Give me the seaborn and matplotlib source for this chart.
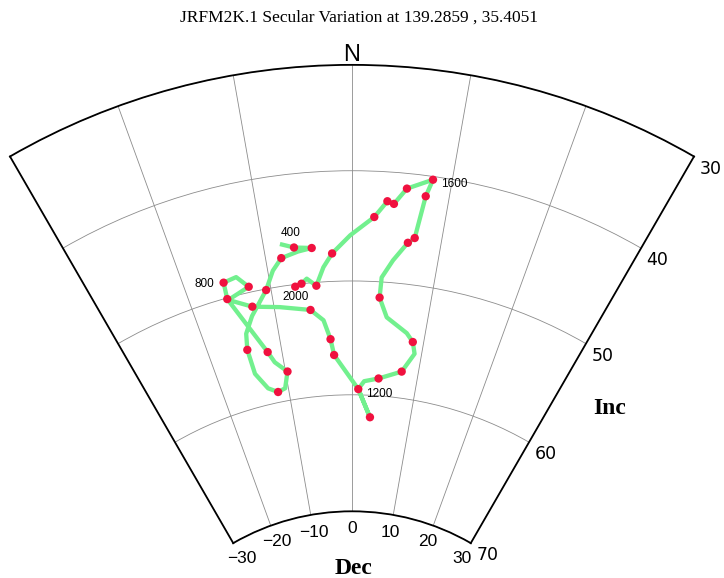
import numpy as np
import matplotlib
matplotlib.use("Agg")
import matplotlib.pyplot as plt
import seaborn as sns

title = "JRFM2K.1 Secular Variation at 139.2859 , 35.4051"

# green curve (Dec, Inc in degrees)
curve_dec = [-7.9, -6.6, -4.6, -6.2, -8.2, -9.4, -10.6, -13.0, -14.3, -14.7, -14.5, -13.1, -11.7, -10.5,
             -9.7, -11.3, -12.0, -15.5, -15.4, -13.8, -12.6, -15.4, -12.7, -9.3, -5.4, -3.8, -3.0, -2.6,
             1.0, 3.1, 1.0, 1.9, 4.1, 7.5, 9.0, 8.5, 7.5, 4.6, 3.5, 3.6, 4.8, 6.3, 7.0, 7.6, 8.1,
             5.6, 4.4, 3.7, 2.4, -0.2, -2.3, -3.4, -4.4, -5.5, -6.2, -7.0]
curve_inc = [46.3, 46.7, 46.9, 47.1, 47.5, 48.5, 50.1, 52.1, 53.5, 54.9, 57.1, 58.6, 59.1, 58.9,
             57.5, 56.5, 55.5, 50.1, 48.6, 48.4, 49.5, 50.2, 51.3, 51.8, 52.4, 53.4, 55.1, 56.5,
             59.5, 61.9, 59.5, 58.8, 58.5, 57.7, 56.0, 55.0, 54.3, 53.1, 51.4, 49.6, 48.0, 46.3, 45.8, 41.9, 40.3,
             41.4, 42.9, 42.7, 44.2, 45.9, 47.5, 48.7, 50.3, 49.6, 50.0, 50.2]

# red dots (every 50 years)
dot_dec = [-6.6, -4.6, -8.2, -10.6, -14.7, -11.7, -9.7, -12.0, -15.5, -15.4, -12.6, -12.7, -5.4, -3.0,
           -2.6, 1.0, 3.1, 4.1, 7.5, 8.5, 3.5, 6.3, 7.0, 7.6, 8.1, 5.6, 4.4, 3.7, 2.4, -2.3, -4.4, -6.2, -7.0]
dot_inc = [46.7, 46.9, 47.5, 50.1, 54.9, 59.1, 57.5, 55.5, 50.1, 48.6, 49.5, 51.3, 52.4, 55.1,
           56.5, 59.5, 61.9, 58.5, 57.7, 55.0, 51.4, 46.3, 45.8, 41.9, 40.3, 41.4, 42.9, 42.7, 44.2, 47.5, 50.3, 50.0, 50.2]

years = ["400", "800", "1200", "1600", "2000"]
year_dec = [-6.6, -15.4, 1.0, 8.1, -7.0]
year_inc = [46.7, 48.6, 59.5, 40.3, 50.2]

dec_ticks = [-30, -20, -10, 0, 10, 20, 30]
inc_ticks = [30, 40, 50, 60, 70]


def eq_area(inc):
    # equal-area radius for an inclination
    return np.sin(np.radians(90 - np.asarray(inc, dtype=float)) / 2)


sans = ["Liberation Sans", "DejaVu Sans"]
serif = ["Liberation Serif", "DejaVu Serif"]

fig = plt.figure(figsize=(7.24, 5.78), dpi=100)
# polar axes is kept square, the wedge sits inside it
ax = fig.add_axes([10 / 724, -68 / 578, 684 / 724, 684 / 578], projection="polar")
ax.set_theta_zero_location("N")
ax.set_theta_direction(-1)
ax.set_thetamin(-30)
ax.set_thetamax(30)
ax.set_rorigin(0)
ax.set_rlim(eq_area(70), eq_area(30))

sns.lineplot(x=np.radians(curve_dec), y=eq_area(curve_inc), sort=False, estimator=None,
             color="#72f08e", lw=3.1, ax=ax, zorder=2)
sns.scatterplot(x=np.radians(dot_dec), y=eq_area(dot_inc), color="#f0113f", s=36,
                edgecolor="none", ax=ax, zorder=3)

offsets = [(-3, 15), (-9, -1), (8, -5), (8, -4), (0, -10)]
aligns = ["center", "right", "left", "left", "center"]
for lab, d, i, off, ha in zip(years, year_dec, year_inc, offsets, aligns):
    ax.annotate(lab, (np.radians(d), eq_area(i)), xytext=off, textcoords="offset pixels",
                ha=ha, va="center", fontsize=8.5, family=sans)

ax.set_xticks(np.radians(dec_ticks))
ax.set_xticklabels([str(t).replace("-", "\u2212") for t in dec_ticks], family=sans)
ax.xaxis.set_tick_params(label1On=False, label2On=True, labelsize=12.5, pad=2)
ax.set_yticks(eq_area(inc_ticks))
ax.set_yticklabels([str(t) for t in inc_ticks], family=sans)
ax.yaxis.set_tick_params(label1On=False, label2On=True, labelsize=12.5, pad=1)
ax.grid(True, color="#8c8c8c", lw=0.6)
for s in ax.spines.values():
    s.set_color("black")
    s.set_linewidth(1.3)
ax.set_xlabel("")
ax.set_ylabel("")

fig.text(0.496, 1 - 18 / 578, title, ha="center", va="center", fontsize=12.5, family=serif)
fig.text(352 / 724, 1 - 55 / 578, "N", ha="center", va="center", fontsize=17, family=sans)
fig.text(610 / 724, 1 - 408 / 578, "Inc", ha="center", va="center", fontsize=17,
         fontweight="bold", family=serif)
fig.text(353 / 724, 1 - 569 / 578, "Dec", ha="center", va="center", fontsize=17,
         fontweight="bold", family=serif)

fig.savefig("out.png", dpi=100)
